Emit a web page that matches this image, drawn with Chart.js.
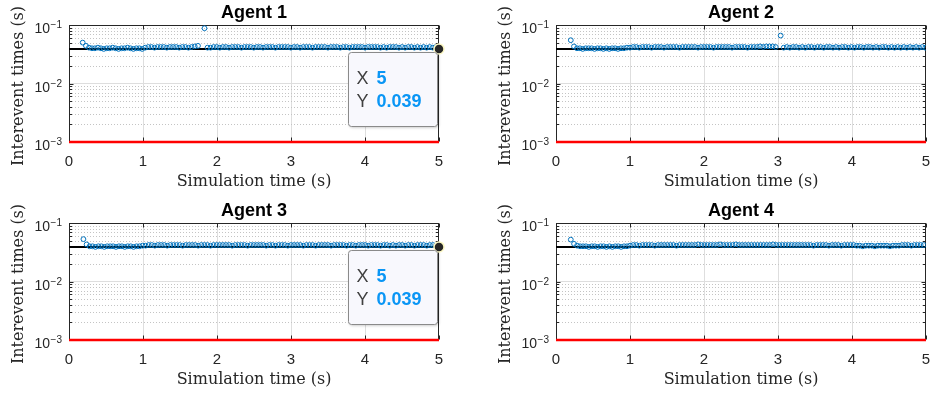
<!DOCTYPE html>
<html>
<head>
<meta charset="utf-8">
<title>Interevent times</title>
<script src="https://cdn.jsdelivr.net/npm/chart.js@4.4.0/dist/chart.umd.min.js"></script>
<style>
  body { margin: 0; background: #fff; }
  #wrap { position: relative; width: 932px; height: 396px; }
  .panel { position: absolute; width: 466px; height: 198px; }
</style>
</head>
<body>
<div id="wrap">
  <div class="panel" style="left:0;top:0"><canvas id="c0" width="466" height="198"></canvas></div>
  <div class="panel" style="left:466px;top:0"><canvas id="c1" width="466" height="198"></canvas></div>
  <div class="panel" style="left:0;top:198px"><canvas id="c2" width="466" height="198"></canvas></div>
  <div class="panel" style="left:466px;top:198px"><canvas id="c3" width="466" height="198"></canvas></div>
</div>
<script>
// ---- data ----
const titles = ["Agent 1", "Agent 2", "Agent 3", "Agent 4"];
const xLabel = "Simulation time (s)";
const yLabel = "Interevent times (s)";
const xTicks = [0, 1, 2, 3, 4, 5];
const yDecades = [0.001, 0.01, 0.1];
const yDecadeExp = ["\u22123", "\u22122", "\u22121"];
const yMinorMantissa = [2, 3, 4, 5, 6, 7, 8, 9];

const minInterval = 0.001;   // red line
const lowerBound = 0.039;    // black line
const tipX = [5, null, 5, null];
const tipY = [0.039, null, 0.039, null];

// time of first event for each agent
const firstEvent = [0.185, 0.2, 0.195, 0.2];

// interevent times (s), one per event
const agent1Gaps = [
  0.050, 0.044,
  0.041, 0.040, 0.040, 0.041, 0.040, 0.039, 0.040, 0.040, 0.041, 0.040,
  0.039, 0.040, 0.040, 0.041, 0.040, 0.039, 0.040, 0.040, 0.039,
  0.041, 0.042, 0.042, 0.041, 0.042, 0.042, 0.042, 0.041, 0.042, 0.042,
  0.042, 0.041, 0.042, 0.042, 0.041, 0.042, 0.043, 0.044,
  0.088,
  0.041, 0.041, 0.042, 0.042, 0.041, 0.042, 0.042, 0.041, 0.042, 0.042,
  0.042, 0.041, 0.042, 0.042, 0.042, 0.041, 0.042, 0.042, 0.041, 0.042,
  0.042, 0.042, 0.041, 0.042, 0.042, 0.042, 0.042, 0.041, 0.042, 0.042,
  0.041, 0.042, 0.042, 0.042, 0.041, 0.042, 0.042, 0.042, 0.042, 0.041,
  0.042, 0.042, 0.042, 0.041, 0.042, 0.042, 0.041, 0.042, 0.042, 0.042,
  0.042, 0.041, 0.042, 0.042, 0.042, 0.042, 0.041, 0.042, 0.041, 0.042,
  0.042, 0.042, 0.041, 0.042, 0.041, 0.042, 0.042, 0.041, 0.042, 0.041,
  0.042, 0.041, 0.042, 0.041, 0.042
];
const agent2Gaps = [
  0.055, 0.043,
  0.040, 0.040, 0.039, 0.040, 0.040, 0.040, 0.039, 0.040, 0.040, 0.039,
  0.040, 0.039, 0.040, 0.040, 0.039, 0.040, 0.040, 0.041,
  0.041, 0.042, 0.042, 0.041, 0.042, 0.042, 0.042, 0.041, 0.042, 0.042,
  0.042, 0.041, 0.042, 0.042, 0.042, 0.042, 0.041, 0.042, 0.042, 0.042,
  0.042, 0.042, 0.041, 0.042, 0.042, 0.042, 0.042, 0.041, 0.042, 0.042,
  0.042, 0.042, 0.042, 0.041, 0.042, 0.042, 0.042, 0.042, 0.041, 0.042,
  0.042, 0.042, 0.043,
  0.042, 0.043, 0.043, 0.043, 0.042,
  0.066,
  0.041, 0.042, 0.041, 0.042, 0.042, 0.041, 0.042, 0.041, 0.042, 0.042,
  0.041, 0.042, 0.042, 0.041, 0.042, 0.042, 0.041, 0.042, 0.041, 0.042,
  0.042, 0.041, 0.042, 0.041, 0.042, 0.042, 0.041, 0.042, 0.042, 0.041,
  0.042, 0.041, 0.042, 0.042, 0.041, 0.042, 0.041, 0.042, 0.041, 0.042,
  0.041, 0.042, 0.041, 0.042, 0.041, 0.042, 0.041
];
const agent3Gaps = [
  0.053, 0.043,
  0.040, 0.040, 0.039, 0.040, 0.040, 0.039, 0.040, 0.040, 0.040, 0.039,
  0.040, 0.040, 0.039, 0.040, 0.040, 0.039, 0.040, 0.040, 0.041,
  0.041, 0.042, 0.042, 0.041, 0.042, 0.042, 0.042, 0.041, 0.042, 0.042,
  0.042, 0.042, 0.041, 0.042, 0.042, 0.042, 0.042, 0.041, 0.042, 0.042,
  0.042, 0.041, 0.042, 0.042, 0.042, 0.042, 0.042, 0.042, 0.041, 0.042,
  0.042, 0.042, 0.042, 0.041, 0.042, 0.042, 0.042, 0.042, 0.042, 0.041,
  0.042, 0.042, 0.041, 0.042, 0.042, 0.042, 0.041, 0.042, 0.042, 0.042,
  0.042, 0.041, 0.042, 0.042, 0.042, 0.041, 0.042, 0.042, 0.042, 0.042,
  0.041, 0.042, 0.042, 0.042, 0.042, 0.041, 0.042, 0.042, 0.041, 0.042,
  0.042, 0.042, 0.041, 0.042, 0.042, 0.042, 0.041, 0.042, 0.042, 0.041,
  0.042, 0.041, 0.042, 0.042, 0.041, 0.042, 0.042, 0.041, 0.042, 0.042,
  0.042, 0.041, 0.042, 0.042, 0.041
];
const agent4Gaps = [
  0.052, 0.044,
  0.041, 0.040, 0.040, 0.040, 0.039, 0.040, 0.040, 0.039, 0.040, 0.040,
  0.039, 0.040, 0.039, 0.040, 0.040, 0.039, 0.040, 0.040, 0.041,
  0.042, 0.042, 0.041, 0.042, 0.042, 0.042, 0.042, 0.041, 0.042, 0.042,
  0.042, 0.042, 0.042, 0.042, 0.041, 0.042, 0.042, 0.042, 0.042, 0.042,
  0.042, 0.043, 0.042, 0.042, 0.042, 0.042, 0.042, 0.042, 0.043, 0.042,
  0.042, 0.042, 0.042, 0.043, 0.042, 0.042, 0.042, 0.042, 0.042, 0.042,
  0.042, 0.042, 0.042, 0.042, 0.042, 0.043, 0.042, 0.042, 0.042, 0.042,
  0.042, 0.042, 0.042, 0.042, 0.042, 0.042, 0.042, 0.042, 0.041, 0.042,
  0.042, 0.042, 0.042, 0.041, 0.042, 0.042, 0.042, 0.041, 0.042, 0.042,
  0.042, 0.042,
  0.041, 0.041, 0.040, 0.041, 0.041, 0.041, 0.040, 0.041, 0.041, 0.041,
  0.041, 0.040, 0.041, 0.041, 0.041,
  0.042, 0.042, 0.042, 0.041, 0.042, 0.042, 0.042, 0.042
];
const agentGaps = [agent1Gaps, agent2Gaps, agent3Gaps, agent4Gaps];

// ---- layout ----
const panelPadding = [
  { left: 69, right: 27, top: 25, bottom: 56 },
  { left: 90, right: 6, top: 25, bottom: 56 },
  { left: 69, right: 27, top: 25, bottom: 56 },
  { left: 90, right: 6, top: 25, bottom: 56 }
];

const axisColor = "#262626";
const sansFont = "'Liberation Sans', Arial, Helvetica, sans-serif";
const serifFont = "'DejaVu Serif', serif";

// each event is plotted at its own time: previous event time + interval
function eventPoints(start, gaps) {
  let t = start;
  return gaps.map((g, k) => {
    if (k > 0) t += g;
    return { x: t, y: g };
  });
}

const isDecade = v => Math.abs(Math.log10(v) - Math.round(Math.log10(v))) < 1e-6;

const decor = {
  id: "decor",
  beforeDatasetsDraw(chart) {
    const { ctx, chartArea: a, scales: { x, y } } = chart;
    ctx.save();
    // minor log grid, dotted
    ctx.lineWidth = 1;
    ctx.strokeStyle = "#c4c4c4";
    ctx.setLineDash([1, 2]);
    yDecades.slice(0, -1).forEach(d => {
      yMinorMantissa.forEach(m => {
        const py = Math.round(y.getPixelForValue(m * d)) + 0.5;
        ctx.beginPath();
        ctx.moveTo(a.left, py);
        ctx.lineTo(a.right, py);
        ctx.stroke();
      });
    });
    ctx.setLineDash([]);

    // axes box
    ctx.strokeStyle = axisColor;
    const L = Math.round(a.left) + 0.5, R = Math.round(a.right) - 0.5;
    const T = Math.round(a.top) + 0.5, B = Math.round(a.bottom) - 0.5;
    ctx.strokeRect(L, T, R - L, B - T);

    // tick marks, pointing inwards on all four sides
    ctx.beginPath();
    xTicks.forEach(v => {
      const px = Math.round(x.getPixelForValue(v)) + 0.5;
      ctx.moveTo(px, B); ctx.lineTo(px, B - 4);
      ctx.moveTo(px, T); ctx.lineTo(px, T + 4);
    });
    yDecades.forEach(d => {
      const py = Math.round(y.getPixelForValue(d)) + 0.5;
      ctx.moveTo(L, py); ctx.lineTo(L + 4, py);
      ctx.moveTo(R, py); ctx.lineTo(R - 4, py);
    });
    yDecades.slice(0, -1).forEach(d => {
      yMinorMantissa.forEach(m => {
        const py = Math.round(y.getPixelForValue(m * d)) + 0.5;
        ctx.moveTo(L, py); ctx.lineTo(L + 2.5, py);
        ctx.moveTo(R, py); ctx.lineTo(R - 2.5, py);
      });
    });
    ctx.stroke();
    ctx.restore();
  },
  afterDraw(chart, args, opts) {
    const i = opts.panel;
    const { ctx, chartArea: a, scales: { x, y } } = chart;
    const cx = (a.left + a.right) / 2;
    ctx.save();
    ctx.fillStyle = "#000";

    // title
    ctx.font = "bold 18px " + sansFont;
    ctx.textAlign = "center";
    ctx.textBaseline = "alphabetic";
    ctx.fillText(titles[i], cx, a.top - 7);

    // x tick labels
    ctx.fillStyle = axisColor;
    ctx.font = "15px " + sansFont;
    xTicks.forEach(v => ctx.fillText(String(v), x.getPixelForValue(v), a.bottom + 24));

    // y tick labels 10^n
    ctx.textAlign = "right";
    yDecades.forEach((d, k) => {
      const py = y.getPixelForValue(d);
      ctx.font = "10px " + sansFont;
      const supW = ctx.measureText(yDecadeExp[k]).width;
      ctx.fillText(yDecadeExp[k], a.left - 7, py + 3);
      ctx.font = "14px " + sansFont;
      ctx.fillText("10", a.left - 7 - supW - 0.5, py + 8);
    });

    // axis titles
    ctx.fillStyle = axisColor;
    ctx.textAlign = "center";
    ctx.font = "16px " + serifFont;
    ctx.fillText(xLabel, cx, a.bottom + 44);
    ctx.save();
    ctx.translate(a.left - 46, (a.top + a.bottom) / 2 + 2.5);
    ctx.rotate(-Math.PI / 2);
    ctx.fillText(yLabel, 0, 0);
    ctx.restore();

    // data tip
    if (tipX[i] !== null) {
      const px = x.getPixelForValue(tipX[i]);
      const py = y.getPixelForValue(tipY[i]);
      const bx = Math.round(px - 91) + 0.5, by = Math.round(py + 3) + 0.5;
      const bw = 89, bh = 74;
      ctx.save();
      ctx.shadowColor = "rgba(0,0,0,0.25)";
      ctx.shadowBlur = 3;
      ctx.shadowOffsetX = 1;
      ctx.shadowOffsetY = 1;
      ctx.beginPath();
      ctx.roundRect(bx, by, bw, bh, 3);
      ctx.fillStyle = "#f8f8fd";
      ctx.fill();
      ctx.restore();
      ctx.beginPath();
      ctx.roundRect(bx, by, bw, bh, 3);
      ctx.strokeStyle = "#8a8a8a";
      ctx.lineWidth = 1;
      ctx.stroke();

      ctx.textAlign = "left";
      ctx.font = "18px " + sansFont;
      ctx.fillStyle = "#404040";
      ctx.fillText("X", bx + 8, by + 31);
      ctx.fillText("Y", bx + 8, by + 54);
      ctx.font = "bold 18px " + sansFont;
      ctx.fillStyle = "#0a96f5";
      ctx.fillText(String(tipX[i]), bx + 28, by + 31);
      ctx.fillText(String(tipY[i]), bx + 28, by + 54);
    }
    ctx.restore();
  }
};

titles.forEach((t, i) => {
  const pts = eventPoints(firstEvent[i], agentGaps[i]);
  const datasets = [];
  if (tipX[i] !== null) {
    datasets.push({
      data: [{ x: tipX[i], y: tipY[i] }],
      pointRadius: 5,
      pointBackgroundColor: "#262626",
      pointBorderColor: "#fbf7c4",
      pointBorderWidth: 1.5,
      clip: false
    });
  }
  datasets.push({
    data: pts,
    pointStyle: "circle",
    pointRadius: 2.4,
    pointBorderWidth: 1,
    pointBorderColor: "#0072BD",
    pointBackgroundColor: "rgba(0,0,0,0)",
    showLine: false
  });
  datasets.push({
    data: [{ x: 0, y: lowerBound }, { x: 5, y: lowerBound }],
    showLine: true,
    borderColor: "#000",
    borderWidth: 2,
    pointRadius: 0
  });
  datasets.push({
    data: [{ x: 0, y: minInterval }, { x: 5, y: minInterval }],
    showLine: true,
    borderColor: "#ff0000",
    borderWidth: 2.5,
    pointRadius: 0,
    clip: false
  });

  new Chart(document.getElementById("c" + i), {
    type: "scatter",
    data: { datasets },
    plugins: [decor],
    options: {
      responsive: false,
      animation: false,
      events: [],
      layout: { padding: panelPadding[i] },
      plugins: {
        legend: { display: false },
        tooltip: { enabled: false },
        title: { display: false },
        decor: { panel: i }
      },
      scales: {
        x: {
          type: "linear",
          min: 0,
          max: 5,
          ticks: { display: false, stepSize: 1 },
          grid: {
            drawTicks: false,
            color: c => (c.tick && c.tick.value > 0 && c.tick.value < 5) ? "#dedede" : "rgba(0,0,0,0)"
          },
          border: { display: false }
        },
        y: {
          type: "logarithmic",
          min: 0.001,
          max: 0.1,
          ticks: { display: false },
          grid: {
            drawTicks: false,
            color: c => {
              const v = c.tick && c.tick.value;
              return v && isDecade(v) && v > 0.0011 && v < 0.09 ? "#dedede" : "rgba(0,0,0,0)";
            }
          },
          border: { display: false }
        }
      }
    }
  });
});
</script>
</body>
</html>
